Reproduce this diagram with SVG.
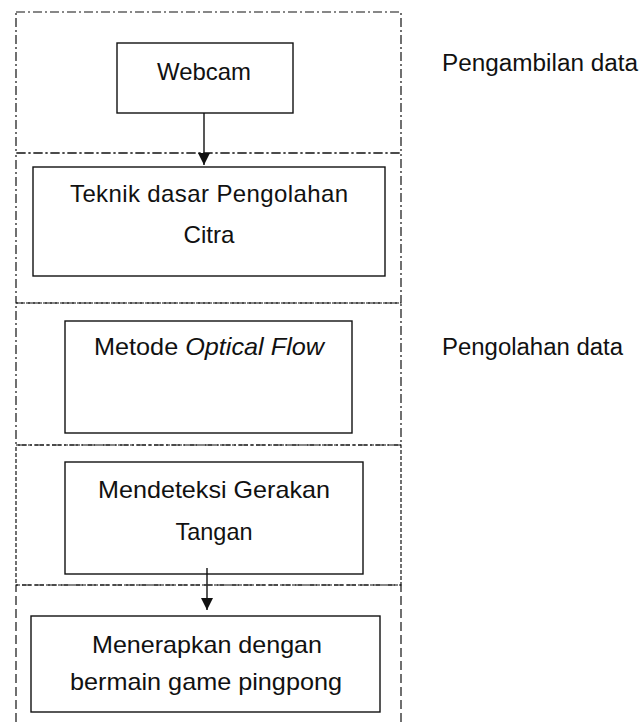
<svg xmlns="http://www.w3.org/2000/svg" width="641" height="722" viewBox="0 0 641 722">
<style>
.frame{fill:none;stroke:#111;stroke-width:1.2;stroke-dasharray:9 3 2 3}
.box{fill:#fff;stroke:#111;stroke-width:1.4}
.t{font-family:"Liberation Sans",Arial,sans-serif;font-size:24px;fill:#111;text-anchor:middle}
.lbl{font-family:"Liberation Sans",Arial,sans-serif;font-size:23px;fill:#111}
.conn{stroke:#111;stroke-width:1.4;fill:none}
</style>
<defs>
<marker id="ah" viewBox="0 0 12 12" markerWidth="12" markerHeight="12" refX="12" refY="6" orient="auto" markerUnits="userSpaceOnUse">
<path d="M0,0 L12,6 L0,12 Z" fill="#111"/>
</marker>
</defs>
<rect width="641" height="722" fill="#fff"/>
<g id="frames">
<rect class="frame" x="16" y="12" width="385" height="141"/>
<rect class="frame" x="16" y="153" width="385" height="150"/>
<rect class="frame" x="16" y="303" width="385" height="142"/>
<rect class="frame" x="16" y="445" width="385" height="140" style="stroke-dasharray:4 2"/>
<path class="frame" d="M16,722 V585 H401 V722" style="stroke-dasharray:9 4"/>
</g>
<g id="webcam">
<rect class="box" x="117" y="43" width="176" height="70"/>
<text class="t" x="204" y="80" textLength="94" lengthAdjust="spacingAndGlyphs">Webcam</text>
</g>
<g id="teknik">
<rect class="box" x="33" y="167" width="352" height="109"/>
<text class="t" x="209" y="202" textLength="278" lengthAdjust="spacing">Teknik dasar Pengolahan</text>
<text class="t" x="209" y="243" textLength="51" lengthAdjust="spacingAndGlyphs">Citra</text>
</g>
<g id="optical">
<rect class="box" x="65" y="321" width="287" height="112"/>
<text class="t" x="209" y="355" textLength="230" lengthAdjust="spacingAndGlyphs">Metode <tspan font-style="italic">Optical Flow</tspan></text>
</g>
<g id="deteksi">
<rect class="box" x="65" y="462" width="298" height="112"/>
<text class="t" x="214" y="498" textLength="232" lengthAdjust="spacingAndGlyphs">Mendeteksi Gerakan</text>
<text class="t" x="214" y="540" textLength="77" lengthAdjust="spacingAndGlyphs">Tangan</text>
</g>
<g id="terapkan">
<rect class="box" x="31" y="616" width="349" height="96"/>
<text class="t" x="207" y="653" textLength="230" lengthAdjust="spacingAndGlyphs">Menerapkan dengan</text>
<text class="t" x="206" y="690" textLength="272" lengthAdjust="spacingAndGlyphs">bermain game pingpong</text>
</g>
<g id="connectors">
<line class="conn" x1="204" y1="113" x2="204" y2="165" marker-end="url(#ah)"/>
<line class="conn" x1="207" y1="568" x2="207" y2="610" marker-end="url(#ah)"/>
</g>
<g id="labels">
<text class="lbl" x="442" y="71" textLength="196" lengthAdjust="spacingAndGlyphs">Pengambilan data</text>
<text class="lbl" x="442" y="355" textLength="181" lengthAdjust="spacingAndGlyphs">Pengolahan data</text>
</g>
</svg>
